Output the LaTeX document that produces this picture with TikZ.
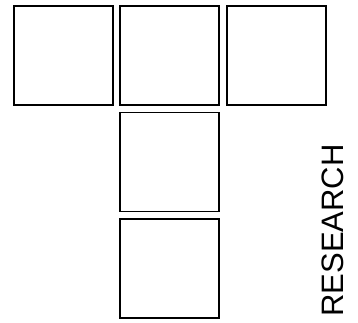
\documentclass[tikz,border=0pt]{standalone}
\usepackage{fontspec}
\setsansfont{Liberation Sans}
\usetikzlibrary{positioning}

\begin{document}
\begin{tikzpicture}[x=1pt, y=-1pt,
    cell/.style={draw, line width=1.3pt, inner sep=0pt, outer sep=0pt,
                 minimum size=99pt, fill=white},
    tag/.style={font=\sffamily\fontsize{31}{31}\selectfont, inner sep=0pt,
                rotate=90}]

  \useasboundingbox (0,0) rectangle (358,323);

  %% Top row
  \node[cell] (left)  at (63.5,55.5)  {};
  \node[cell] (mid)   at (169.5,55.5) {};
  \node[cell] (right) at (276.5,55.5) {};

  %% Stem
  \node[cell] (stemA) at (169.5,162)   {};
  \node[cell] (stemB) at (169.5,268.5) {};

  %% Label
  \node[tag] (word) at (333,230.5) {RESEARCH};
\end{tikzpicture}
\end{document}
